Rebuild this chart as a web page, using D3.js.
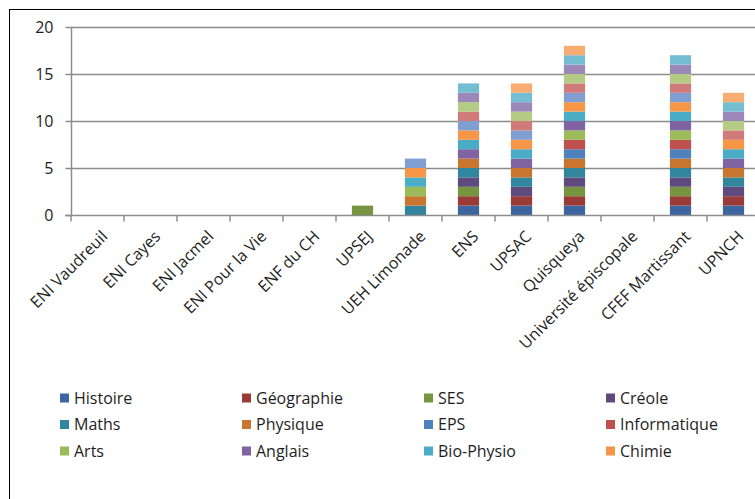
<!DOCTYPE html>
<html><head><meta charset="utf-8">
<script src="https://cdn.jsdelivr.net/npm/d3@7"></script>
<style>html,body{margin:0;padding:0;background:#fff;overflow:hidden}svg{display:block}</style>
</head><body>
<script>
const categories = ["ENI Vaudreuil","ENI Cayes","ENI Jacmel","ENI Pour la Vie","ENF du CH","UPSEJ","UEH Limonade","ENS","UPSAC","Quisqueya","Université épiscopale","CFEF Martissant","UPNCH"];
const seriesNames = ["Histoire","Géographie","SES","Créole","Maths","Physique","EPS","Informatique","Arts","Anglais","Bio-Physio","Chimie","Série 13","Série 14","Série 15","Série 16","Série 17","Série 18"];
const legendCount = 12;
const histoire     = [0,0,0,0,0,0,0,1,1,1,0,1,1];
const geographie   = [0,0,0,0,0,0,0,1,1,1,0,1,1];
const ses          = [0,0,0,0,0,1,0,1,0,1,0,1,0];
const creole       = [0,0,0,0,0,0,0,1,1,1,0,1,1];
const maths        = [0,0,0,0,0,0,1,1,1,1,0,1,1];
const physique     = [0,0,0,0,0,0,1,1,1,1,0,1,1];
const eps          = [0,0,0,0,0,0,0,0,0,1,0,1,0];
const informatique = [0,0,0,0,0,0,0,0,0,1,0,1,0];
const arts         = [0,0,0,0,0,0,1,0,0,1,0,1,0];
const anglais      = [0,0,0,0,0,0,0,1,1,1,0,1,1];
const bioPhysio    = [0,0,0,0,0,0,1,1,1,1,0,1,1];
const chimie       = [0,0,0,0,0,0,1,1,1,1,0,1,1];
const serie13      = [0,0,0,0,0,0,1,1,1,1,0,1,0];
const serie14      = [0,0,0,0,0,0,0,1,1,1,0,1,1];
const serie15      = [0,0,0,0,0,0,0,1,1,1,0,1,1];
const serie16      = [0,0,0,0,0,0,0,1,1,1,0,1,1];
const serie17      = [0,0,0,0,0,0,0,1,1,1,0,1,1];
const serie18      = [0,0,0,0,0,0,0,0,1,1,0,0,1];
const yTicks = [0,5,10,15,20];
const colors = ["#3D66A0","#9B3B38","#779440","#5F4A7D","#31859C","#C8752F",
                "#4F81BD","#C0504D","#9BBB59","#8064A2","#4BACC6","#F79646",
                "#809ED2","#D07B79","#B3CB82","#9B87B8","#74BDD3","#F9AD72"];
const seriesValues = [histoire,geographie,ses,creole,maths,physique,eps,informatique,arts,anglais,bioPhysio,chimie,serie13,serie14,serie15,serie16,serie17,serie18];

(function(){
const W = 755, H = 499;
const svg = d3.select("body").append("svg").attr("width", W).attr("height", H);
const font = "'Open Sans', Lato, sans-serif";
const fs = 16;
const txt = "#1e1e1e";

svg.append("rect").attr("x", 9.5).attr("y", 9.5).attr("width", 900).attr("height", 700)
  .attr("fill", "#fff").attr("stroke", "#000").attr("stroke-width", 1);

const pl = 71, pr = 760, pt = 27, pb = 215;
const x = d3.scaleBand().domain(categories).range([pl, pr]).paddingInner(0.6).paddingOuter(0.3);
const xb = d3.scaleBand().domain(categories).range([pl, pr]);
const y = d3.scaleLinear().domain([0, 20]).range([pb, pt]);

svg.append("g").selectAll("line").data(yTicks.filter(d => d > 0)).join("line")
  .attr("x1", pl).attr("x2", W).attr("y1", d => Math.round(y(d)) + 0.5).attr("y2", d => Math.round(y(d)) + 0.5)
  .attr("stroke", "#8c8c8c").attr("stroke-width", 1.5);

const table = categories.map((c, i) => {
  const o = {cat: c};
  seriesNames.forEach((s, j) => o[s] = seriesValues[j][i]);
  return o;
});
const stack = d3.stack().keys(seriesNames)(table);
svg.append("g").selectAll("g").data(stack).join("g")
  .attr("fill", (d, i) => colors[i])
  .selectAll("rect").data(d => d.filter(p => p[1] - p[0] > 0)).join("rect")
  .attr("x", d => x(d.data.cat)).attr("width", x.bandwidth())
  .attr("y", d => y(d[1])).attr("height", d => y(d[0]) - y(d[1]));

const yAxis = d3.axisLeft(y).tickValues(yTicks).tickSize(6).tickPadding(12);
const gy = svg.append("g").attr("transform", `translate(${pl + 0.5},0)`).call(yAxis);
gy.select(".domain").attr("stroke", "#8c8c8c").attr("stroke-width", 1.5).attr("d", `M0,${y(20)}V${pb}`);
gy.selectAll(".tick line").attr("stroke", "#8c8c8c").attr("stroke-width", 1.5);
gy.selectAll(".tick text").attr("font-family", font).attr("font-size", fs).attr("fill", txt);

const gx = svg.append("g").attr("transform", `translate(0,${pb + 0.5})`);
gx.append("line").attr("x1", pl - 6).attr("x2", W).attr("stroke", "#8c8c8c").attr("stroke-width", 1.5);
gx.selectAll("line.t").data(categories.concat(["__end"])).join("line").attr("class", "t")
  .attr("x1", (d, i) => pl + i * xb.step()).attr("x2", (d, i) => pl + i * xb.step())
  .attr("y1", 0).attr("y2", 6).attr("stroke", "#8c8c8c").attr("stroke-width", 1.5);
gx.selectAll("text").data(categories).join("text")
  .attr("transform", d => `translate(${xb(d) + xb.bandwidth() / 2 + 11},${22}) rotate(-45)`)
  .attr("text-anchor", "end").attr("font-family", font).attr("font-size", fs).attr("fill", txt)
  .text(d => d);

const legendItems = seriesNames.slice(0, legendCount);
const lg = svg.append("g").selectAll("g").data(legendItems).join("g")
  .attr("transform", (d, i) => `translate(${60 + (i % 4) * 182},${398 + Math.floor(i / 4) * 26.5})`);
lg.append("rect").attr("x", 0).attr("y", -4.5).attr("width", 9).attr("height", 9).attr("fill", (d, i) => colors[i]);
lg.append("text").attr("x", 14).attr("y", 0).attr("dy", "0.35em")
  .attr("font-family", font).attr("font-size", fs).attr("fill", txt).text(d => d);
})();
</script>
</body></html>
